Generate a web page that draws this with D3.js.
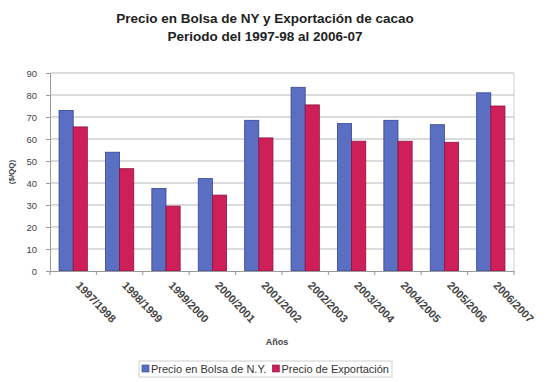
<!DOCTYPE html>
<html>
<head>
<meta charset="utf-8">
<script src="https://cdn.jsdelivr.net/npm/d3@7"></script>
<style>
  html, body { margin: 0; padding: 0; background: #ffffff; }
  svg { display: block; font-family: "Liberation Sans", Arial, sans-serif; }
</style>
</head>
<body>
<svg id="chart" width="549" height="382"></svg>
<script>
// Cocoa prices per campaign: NY exchange vs. export price
const periods = ["1997/1998", "1998/1999", "1999/2000", "2000/2001", "2001/2002",
                 "2002/2003", "2003/2004", "2004/2005", "2005/2006", "2006/2007"];
const precioBolsaNY = [73, 54, 37.5, 42, 68.5, 83.5, 67, 68.5, 66.5, 81];
const precioExportacion = [65.5, 46.5, 29.5, 34.5, 60.5, 75.5, 59, 59, 58.5, 75];
const seriesNames = ["Precio en Bolsa de N.Y.", "Precio de Exportación"];
const yTicks = [0, 10, 20, 30, 40, 50, 60, 70, 80, 90];
const titleLines = ["Precio en Bolsa de NY y Exportación de cacao", "Periodo del 1997-98 al 2006-07"];

const colors = ["#5a6fc2", "#cf1f58"];
const strokes = ["#34449a", "#8e1340"];

const svg = d3.select("#chart");
const m = { left: 50, right: 35, top: 73, bottom: 111 };
const W = 549, H = 382;

const x = d3.scaleBand().domain(periods).range([m.left, W - m.right]).paddingInner(0.39).paddingOuter(0.195);
const xs = d3.scaleBand().domain([0, 1]).range([0, x.bandwidth()]);
const y = d3.scaleLinear().domain([0, 90]).range([H - m.bottom, m.top]);

// Title
svg.append("g").selectAll("text").data(titleLines).join("text")
  .attr("x", 265).attr("y", (d, i) => 23 + i * 18)
  .attr("text-anchor", "middle")
  .attr("font-size", 13.5).attr("font-weight", "bold").attr("fill", "#222")
  .text(d => d);

// Gridlines
svg.append("g").selectAll("line").data(yTicks.slice(1)).join("line")
  .attr("x1", m.left).attr("x2", W - m.right)
  .attr("y1", d => y(d)).attr("y2", d => y(d))
  .attr("stroke", "#b8b8b8").attr("stroke-width", 1);

// Right border of the plot area
svg.append("line")
  .attr("x1", W - m.right).attr("x2", W - m.right)
  .attr("y1", y(90)).attr("y2", y(0))
  .attr("stroke", "#cfcfcf");

// Bars
const groups = svg.append("g").selectAll("g").data(periods).join("g")
  .attr("transform", d => `translate(${x(d)},0)`);
groups.selectAll("rect")
  .data((d, i) => [precioBolsaNY[i], precioExportacion[i]])
  .join("rect")
  .attr("x", (d, j) => xs(j))
  .attr("width", xs.bandwidth())
  .attr("y", d => y(d))
  .attr("height", d => y(0) - y(d))
  .attr("fill", (d, j) => colors[j])
  .attr("stroke", (d, j) => strokes[j])
  .attr("stroke-width", 0.8);

// Y axis
const yAxis = svg.append("g")
  .attr("transform", `translate(${m.left},0)`)
  .call(d3.axisLeft(y).tickValues(yTicks).tickSize(4).tickPadding(9));
yAxis.select(".domain").attr("stroke", "#9a9a9a");
yAxis.selectAll(".tick line").attr("stroke", "#9a9a9a");
yAxis.selectAll("text").attr("font-size", 9.5).attr("fill", "#444")
  .attr("font-family", "Liberation Sans, Arial, sans-serif");

// X axis
const xAxis = svg.append("g")
  .attr("transform", `translate(0,${y(0)})`)
  .call(d3.axisBottom(x).tickSize(0).tickPadding(0));
xAxis.select(".domain").attr("stroke", "#9a9a9a");
xAxis.selectAll(".tick text")
  .attr("font-size", 11).attr("font-weight", "bold").attr("fill", "#444")
  .attr("font-family", "Liberation Sans, Arial, sans-serif")
  .attr("text-anchor", "start")
  .attr("dy", 0)
  .attr("transform", "translate(2,15) rotate(46)");
// category separators below the axis
svg.append("g").selectAll("line").data(d3.range(periods.length + 1)).join("line")
  .attr("x1", i => m.left + i * (W - m.left - m.right) / periods.length)
  .attr("x2", i => m.left + i * (W - m.left - m.right) / periods.length)
  .attr("y1", y(0)).attr("y2", y(0) + 4)
  .attr("stroke", "#9a9a9a");

// Axis titles
svg.append("text")
  .attr("x", 277).attr("y", 345).attr("text-anchor", "middle")
  .attr("font-size", 9).attr("font-weight", "bold").attr("fill", "#444")
  .text("Años");
svg.append("text")
  .attr("transform", `translate(14,${y(45)}) rotate(-90)`)
  .attr("text-anchor", "middle")
  .attr("font-size", 8).attr("font-weight", "bold").attr("fill", "#444")
  .text("($/QQ)");

// Legend
const lg = svg.append("g").attr("transform", "translate(139,361)");
const frame = lg.append("rect").attr("height", 16)
  .attr("fill", "#fff").attr("stroke", "#d0d0d0");
let cx = 3;
seriesNames.forEach((name, i) => {
  lg.append("rect").attr("x", cx).attr("y", 4).attr("width", 7).attr("height", 7)
    .attr("fill", colors[i]).attr("stroke", strokes[i]).attr("stroke-width", 0.6);
  const t = lg.append("text").attr("x", cx + 9).attr("y", 12)
    .attr("font-size", 11).attr("fill", "#333").text(name);
  cx += 9 + t.node().getComputedTextLength() + 6;
});
frame.attr("width", cx - 3);
</script>
</body>
</html>
